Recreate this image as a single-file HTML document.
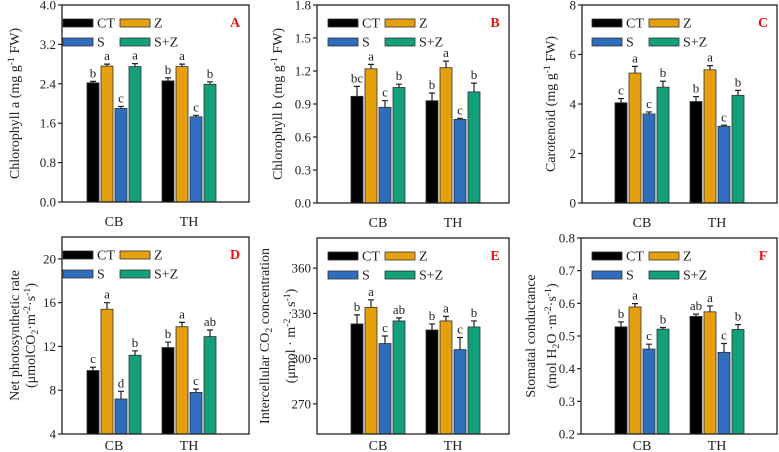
<!DOCTYPE html>
<html><head><meta charset="utf-8"><style>
body{margin:0;background:#fff;}
svg{display:block;font-family:"Liberation Serif",serif;}
text{font-family:"Liberation Serif",serif;}
</style></head><body>
<svg id="chart" width="779" height="452" viewBox="0 0 779 452" xmlns="http://www.w3.org/2000/svg"></svg>
<script>
const groups = ["CB","TH"];
const series = ["CT","Z","S","S+Z"];
const colors = ["#000000","#E6A00E","#2F6DBF","#11A07A"];
const valsA = [[2.42,2.76,1.90,2.75],[2.46,2.75,1.73,2.39]];
const errA  = [[0.03,0.04,0.04,0.06],[0.06,0.05,0.03,0.05]];
const sigA  = [["b","a","c","a"],["b","a","c","b"]];
const valsB = [[0.97,1.22,0.87,1.05],[0.93,1.23,0.76,1.01]];
const errB  = [[0.09,0.04,0.06,0.03],[0.07,0.06,0.01,0.08]];
const sigB  = [["bc","a","c","b"],["b","a","c","b"]];
const valsC = [[4.05,5.25,3.60,4.68],[4.10,5.38,3.10,4.35]];
const errC  = [[0.17,0.27,0.08,0.24],[0.20,0.17,0.04,0.20]];
const sigC  = [["c","a","c","b"],["b","a","c","b"]];
const valsD = [[9.8,15.4,7.2,11.2],[11.9,13.8,7.8,12.9]];
const errD  = [[0.3,0.6,0.7,0.4],[0.5,0.4,0.3,0.6]];
const sigD  = [["c","a","d","b"],["b","a","c","ab"]];
const valsE = [[323,334,310,325],[319,325,306,321]];
const errE  = [[6,5,5,2],[4,3,8,4]];
const sigE  = [["b","a","c","ab"],["b","a","c","b"]];
const valsF = [[0.528,0.589,0.460,0.521],[0.560,0.574,0.450,0.520]];
const errF  = [[0.015,0.010,0.015,0.005],[0.007,0.018,0.027,0.015]];
const sigF  = [["b","a","c","b"],["ab","a","c","b"]];
const ticksA = ["0.0","0.8","1.6","2.4","3.2","4.0"];
const ticksB = ["0.0","0.3","0.6","0.9","1.2","1.5","1.8"];
const ticksC = ["0","2","4","6","8"];
const ticksD = ["4","8","12","16","20"];
const ticksE = ["270","300","330","360"];
const ticksF = ["0.2","0.3","0.4","0.5","0.6","0.7","0.8"];

const NS="http://www.w3.org/2000/svg";
const svg=document.getElementById('chart');
function mk(tag,attrs,parent,text){const e=document.createElementNS(NS,tag);for(const k in attrs)e.setAttribute(k,attrs[k]);if(text!==undefined)e.textContent=text;(parent||svg).appendChild(e);return e;}

const panels=[
 {id:'a',letter:'A',L:62,R:249,T:5,B:202,min:0,max:4,vals:valsA,err:errA,sig:sigA,ticks:ticksA,bar0:25,leg:1,tx:[-43],lab:24,title:['Chlorophyll a  (mg g<sup>-1</sup> FW)']},
 {id:'b',letter:'B',L:317,R:509,T:5,B:203,min:0,max:1.8,vals:valsB,err:errB,sig:sigB,ticks:ticksB,bar0:34,leg:11,tx:[-35],lab:24,title:['Chlorophyll b (mg g<sup>-1</sup> FW)']},
 {id:'c',letter:'C',L:582,R:777,T:5,B:203,min:0,max:8,vals:valsC,err:errC,sig:sigC,ticks:ticksC,bar0:33,leg:10,tx:[-27],lab:24,title:['Carotenoid (mg g<sup>-1</sup> FW)']},
 {id:'d',letter:'D',L:62,R:249,T:237,B:434,min:4,max:22,vals:valsD,err:errD,sig:sigD,ticks:ticksD,bar0:25,leg:1,tx:[-43,-27],lab:16,title:['Net photosynthetic rate','(μmolCO<sub>2</sub>·m<sup>-2</sup>·s<sup>-1</sup>)']},
 {id:'e',letter:'E',L:317,R:509,T:238,B:434,min:250,max:380,vals:valsE,err:errE,sig:sigE,ticks:ticksE,bar0:34,leg:11,tx:[-48,-22],lab:16,title:['Intercellular CO<sub>2</sub> concentration','(μmol · m<sup>-2</sup> · s<sup>-1</sup>)']},
 {id:'f',letter:'F',L:581,R:777,T:238,B:434,min:0.2,max:0.8,vals:valsF,err:errF,sig:sigF,ticks:ticksF,bar0:34,leg:11,tx:[-46,-25],lab:16,title:['Stomatal conductance','(mol H<sub>2</sub>O ·m<sup>-2</sup>·s<sup>-1</sup>)']}
];

function richText(g,str,x,y,size){
 const t=mk('text',{x:x,y:y,'font-size':size,'text-anchor':'middle',fill:'#222'},g);
 const parts=str.split(/(<sup>.*?<\/sup>|<sub>.*?<\/sub>)/);
 parts.forEach(p=>{ if(!p)return;
  let m;
  if((m=p.match(/<sup>(.*?)<\/sup>/))){mk('tspan',{dy:-5,'font-size':size*0.7},t,m[1]);mk('tspan',{dy:5},t,'\u200b');}
  else if((m=p.match(/<sub>(.*?)<\/sub>/))){mk('tspan',{dy:3,'font-size':size*0.7},t,m[1]);mk('tspan',{dy:-3},t,'\u200b');}
  else mk('tspan',{},t,p);
 });
 return t;
}

panels.forEach(p=>{
 const g=mk('g',{});
 
 
 const y=v=>p.B-(v-p.min)/(p.max-p.min)*(p.B-p.T);
 const barX=(gi,si)=>p.L+p.bar0+gi*75+si*14;
 p.vals.forEach((row,gi)=>row.forEach((v,si)=>{
  const x=barX(gi,si), top=y(v), e=p.err[gi][si];
  const r=mk('rect',{x:x,y:top,width:12,height:p.B-top,fill:colors[si],stroke:'#333','stroke-width':0.8},g);
  
  
  const ey=y(v+e);
  const eb=mk('path',{d:`M${x+6} ${top}V${ey}M${x+3} ${ey}H${x+9}`,stroke:'#222','stroke-width':1.2,fill:'none'},g);
  
  
  const s=mk('text',{x:x+6,y:ey-4,'font-size':13,'text-anchor':'middle',fill:'#222'},g,p.sig[gi][si]);
  
  
 }));
 const fr=mk('rect',{x:p.L,y:p.T,width:p.R-p.L,height:p.B-p.T,fill:'none',stroke:'#222','stroke-width':1.3},g);
 
 
 p.ticks.forEach(tl=>{
  const ty=y(parseFloat(tl));
  mk('line',{x1:p.L-4,x2:p.L,y1:ty,y2:ty,stroke:'#222','stroke-width':1.2},g);
  const t=mk('text',{x:p.L-6,y:ty+4.5,'font-size':13,'text-anchor':'end',fill:'#222'},g,tl);
  
  
 });
 groups.forEach((gn,gi)=>{
  const cx=barX(gi,0)+27;
  const t=mk('text',{x:cx,y:p.B+p.lab,'font-size':14,'text-anchor':'middle',fill:'#222'},g,gn);
  
  
 });
 const tg=mk('g',{transform:`rotate(-90)`},g);
 
 
 const mid=(p.T+p.B)/2;
 p.title.forEach((tt,i)=>richText(tg,tt,-mid,p.L+p.tx[i],14));
 series.forEach((sn,si)=>{
  const lx=p.L+p.leg+(si%2)*57, ly=p.T+14+Math.floor(si/2)*19;
  const lg=mk('g',{},g);
  
  
  mk('rect',{x:lx,y:ly,width:30,height:8,fill:colors[si],stroke:'#333','stroke-width':0.8},lg);
  mk('text',{x:lx+34,y:ly+8.5,'font-size':14,fill:'#222'},lg,sn);
 });
 const pl=mk('text',{x:p.R-14,y:p.T+22,'font-size':14,'font-weight':'bold',fill:'#EE1111','text-anchor':'middle'},g,p.letter);
 
 
});
</script>
</body></html>
